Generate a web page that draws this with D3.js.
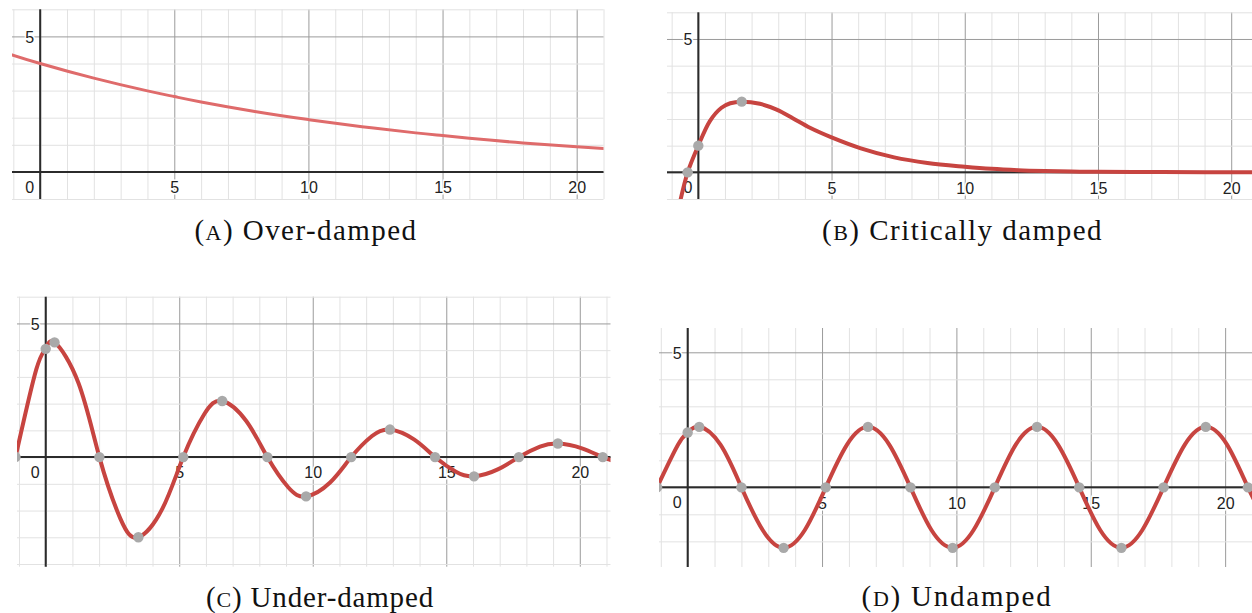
<!DOCTYPE html>
<html>
<head>
<meta charset="utf-8">
<script src="https://cdn.jsdelivr.net/npm/d3@7"></script>
<style>
  html, body { margin: 0; padding: 0; background: #ffffff; }
  svg { display: block; }
  svg text.caption { font-family: "Liberation Serif", "Times New Roman", serif; }
  svg text.num { font-family: "Liberation Sans", Arial, sans-serif; }
</style>
</head>
<body>
<svg id="chart" width="1252" height="613"></svg>
<script>
// ---- Over-damped response ----
const overX = [-1.05, 0, 2, 4, 5, 6, 8, 10, 12, 14, 15, 16, 18, 20, 21];
const overY = [4.32, 4.0, 3.46, 2.99, 2.78, 2.58, 2.23, 1.93, 1.67, 1.44, 1.34, 1.24, 1.07, 0.93, 0.86];

// ---- Critically damped response ----
const critX = [-0.66, -0.4, 0, 0.44, 0.87, 1.2, 1.63, 2.31, 2.94, 3.56, 4.19, 5, 6.1, 7.35, 8.6, 10, 11, 12, 13, 14, 15, 17, 19, 21];
const critY = [-1, 0, 1.0, 1.93, 2.42, 2.59, 2.65, 2.57, 2.35, 2.02, 1.67, 1.31, 0.9, 0.56, 0.35, 0.21, 0.13, 0.08, 0.05, 0.03, 0.02, 0.01, 0, 0];
const critDotX = [-0.4, 0, 1.63];
const critDotY = [0, 1.0, 2.65];

// ---- Under-damped response ----
const underX = [-1.13, -0.35, 0, 0.33, 1.23, 2.01, 2.80, 3.47, 4.37, 5.15, 5.94, 6.61, 7.51, 8.30, 9.08, 9.75, 10.65, 11.44, 12.22, 12.89, 13.79, 14.58, 15.36, 16.04, 16.93, 17.72, 18.51, 19.18, 20.08, 20.86, 21.65];
const underY = [0, 3.29, 4.05, 4.29, 2.76, 0, -2.31, -3.00, -1.93, 0, 1.61, 2.10, 1.35, 0, -1.13, -1.47, -0.95, 0, 0.79, 1.03, 0.66, 0, -0.55, -0.72, -0.46, 0, 0.39, 0.51, 0.33, 0, -0.27];
const underDotX = [-1.13, 0, 0.33, 2.01, 3.47, 5.15, 6.61, 8.30, 9.75, 11.44, 12.89, 14.58, 16.04, 17.72, 19.18, 20.86];
const underDotY = [0, 4.05, 4.29, 0, -3.00, 0, 2.10, 0, -1.47, 0, 1.03, 0, -0.72, 0, 0.51, 0];

// ---- Undamped response ----
const undX = [-1.14, -0.36, 0, 0.43, 1.22, 2.00, 2.79, 3.57, 4.36, 5.14, 5.93, 6.71, 7.50, 8.29, 9.07, 9.86, 10.64, 11.43, 12.21, 13.00, 13.78, 14.57, 15.35, 16.14, 16.92, 17.71, 18.50, 19.28, 20.07, 20.85, 21.64];
const undY = [0, 1.58, 2.03, 2.24, 1.58, 0, -1.58, -2.24, -1.58, 0, 1.58, 2.24, 1.58, 0, -1.58, -2.24, -1.58, 0, 1.58, 2.24, 1.58, 0, -1.58, -2.24, -1.58, 0, 1.58, 2.24, 1.58, 0, -1.58];
const undDotX = [-1.14, 0, 0.43, 2.00, 3.57, 5.14, 6.71, 8.29, 9.86, 11.43, 13.00, 14.57, 16.14, 17.71, 19.28, 20.85];
const undDotY = [0, 2.03, 2.24, 0, -2.24, 0, 2.24, 0, -2.24, 0, 2.24, 0, -2.24, 0, 2.24, 0];

// ---- Axis labels and captions ----
const xTickLabels = [5, 10, 15, 20];
const yTickLabels = [5];
const originLabel = "0";
const captionLetters = ["A", "B", "C", "D"];
const captionNames = ["Over-damped", "Critically damped", "Under-damped", "Undamped"];

const zip = (xs, ys) => xs.map((v, i) => [v, ys[i]]);

const panels = [
  { key: "a", box: [12, 603.5, 9.3, 199], xDom: [-1.05, 21], yDom: [-1, 6],
    line: zip(overX, overY), dots: [], curve: d3.curveNatural, light: true,
    caption: [306, 240, 223] },
  { key: "b", box: [667, 1252, 12.3, 199], xDom: [-1.175, 20.78], yDom: [-1, 6],
    line: zip(critX, critY), dots: zip(critDotX, critDotY), curve: d3.curveCatmullRom.alpha(0.5),
    caption: [962.5, 240, 281] },
  { key: "c", box: [17, 610.5, 296.7, 566.7], xDom: [-1.075, 21.15], yDom: [-4.1, 6],
    line: zip(underX, underY), dots: zip(underDotX, underDotY), curve: d3.curveNatural,
    caption: [320, 607, 228] },
  { key: "d", box: [659, 1252, 328, 567], xDom: [-1.067, 21.0], yDom: [-2.95, 5.9],
    line: zip(undX, undY), dots: zip(undDotX, undDotY), curve: d3.curveNatural,
    caption: [957, 606, 191] }
];

const svg = d3.select("#chart");

function styleLabel(sel) {
  return sel.attr("class", "num").style("font-size", "16px")
    .attr("fill", "#222").attr("stroke", "#fff").attr("stroke-width", 3)
    .attr("paint-order", "stroke");
}

panels.forEach((p, i) => {
  const [l, r, t, b] = p.box;
  const x = d3.scaleLinear().domain(p.xDom).range([l, r]);
  const y = d3.scaleLinear().domain(p.yDom).range([b, t]);
  const g = svg.append("g").attr("class", "panel-" + p.key);

  g.append("clipPath").attr("id", "clip-" + p.key)
    .append("rect").attr("x", l).attr("y", t).attr("width", r - l).attr("height", b - t);

  const xs = d3.range(Math.ceil(p.xDom[0]), Math.floor(p.xDom[1]) + 1);
  const ys = d3.range(Math.ceil(p.yDom[0]), Math.floor(p.yDom[1]) + 1);

  // vertical grid lines
  const vGrid = g.append("g").attr("transform", `translate(0,${b})`)
    .call(d3.axisBottom(x).tickValues(xs).tickSize(-(b - t)).tickFormat(""));
  // horizontal grid lines
  const hGrid = g.append("g").attr("transform", `translate(${l},0)`)
    .call(d3.axisLeft(y).tickValues(ys).tickSize(-(r - l)).tickFormat(""));
  [vGrid, hGrid].forEach(gr => {
    gr.select(".domain").remove();
    gr.selectAll(".tick line")
      .attr("stroke", d => (d % 5 === 0 ? "#9b9b9b" : "#e2e2e2"))
      .attr("stroke-width", 1);
  });
  // keep the major lines on top of the minor ones
  [vGrid, hGrid].forEach(gr => gr.selectAll(".tick").filter(d => d % 5 === 0).raise());

  // main axes through the origin
  g.append("line").attr("x1", l).attr("x2", r).attr("y1", y(0)).attr("y2", y(0))
    .attr("stroke", "#2b2b2b").attr("stroke-width", 2);
  g.append("line").attr("x1", x(0)).attr("x2", x(0)).attr("y1", t).attr("y2", b)
    .attr("stroke", "#2b2b2b").attr("stroke-width", 2);

  // numeric labels along the axes
  const xLab = g.append("g").attr("transform", `translate(0,${y(0)})`)
    .call(d3.axisBottom(x).tickValues(xTickLabels).tickSize(0).tickPadding(10).tickFormat(d3.format("d")));
  const yLab = g.append("g").attr("transform", `translate(${x(0)},0)`)
    .call(d3.axisLeft(y).tickValues(yTickLabels).tickSize(0).tickPadding(6).tickFormat(d3.format("d")));
  [xLab, yLab].forEach(gr => {
    gr.select(".domain").remove();
    gr.attr("font-family", null).attr("font-size", null);
    styleLabel(gr.selectAll("text"));
  });
  yLab.selectAll("text").attr("dy", "0.36em");
  styleLabel(g.append("text")
    .attr("x", x(0) - 6).attr("y", y(0) + 21)
    .attr("text-anchor", "end")
    .text(originLabel));

  // response curve
  const plot = g.append("g").attr("clip-path", `url(#clip-${p.key})`);
  plot.append("path")
    .datum(p.line)
    .attr("d", d3.line().x(d => x(d[0])).y(d => y(d[1])).curve(p.curve))
    .attr("fill", "none")
    .attr("stroke", p.light ? "#df6b6b" : "#c74440")
    .attr("stroke-width", p.light ? 3 : 4)
    .attr("stroke-linejoin", "round").attr("stroke-linecap", "round");

  plot.selectAll("circle").data(p.dots).join("circle")
    .attr("cx", d => x(d[0])).attr("cy", d => y(d[1])).attr("r", 5.2)
    .attr("fill", "#a9a9a9");

  // caption, letter-spaced to its target width
  const [cx, cy, cw] = p.caption;
  const cap = svg.append("text").attr("class", "caption")
    .attr("x", cx).attr("y", cy).attr("text-anchor", "middle")
    .style("font-size", "29px").attr("fill", "#111");
  cap.append("tspan").text("(");
  cap.append("tspan").style("font-size", "22px").text(captionLetters[i]);
  cap.append("tspan").text(")\u00a0" + captionNames[i]);
  const natural = cap.node().getComputedTextLength();
  const nChars = cap.text().length;
  const spacing = Math.max(0, (cw - natural) / nChars);
  cap.style("letter-spacing", spacing + "px");
});
</script>
</body>
</html>
